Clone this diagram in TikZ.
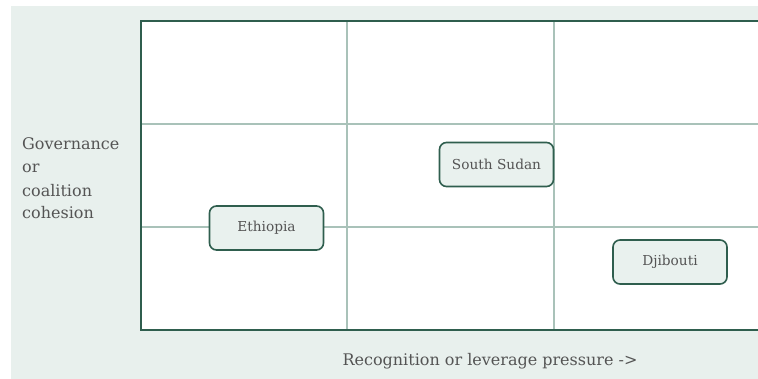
\documentclass[tikz,border=0pt]{standalone}
\usepackage{fontspec}
\setmainfont{DejaVu Serif}
\definecolor{panelbg}{HTML}{E8F0ED}
\definecolor{framegreen}{HTML}{2F5E4E}
\definecolor{gridline}{HTML}{A9C2B9}
\definecolor{boxfill}{HTML}{E9F1EE}
\definecolor{labeltext}{HTML}{545454}
\begin{document}
\begin{tikzpicture}[x=1pt,y=-1pt,
  frameline/.style={draw=framegreen,line width=2.6pt},
  gridrule/.style={draw=gridline,line width=1.8pt},
  countrybox/.style={draw=framegreen,line width=1.6pt,fill=boxfill,rounded corners=7pt,
    minimum width=114pt,minimum height=44pt,inner sep=0pt,text=labeltext,
    font=\fontsize{13.7}{16}\selectfont},
  axislabel/.style={text=labeltext,font=\fontsize{16}{19}\selectfont,inner sep=0pt}]
\useasboundingbox (0,0) rectangle (758,379);
% panel background
\fill[panelbg] (11,6) rectangle (758,379);
% plot area
\fill[white] (141,21) rectangle (758,330);
% inner grid
\draw[gridrule] (347,21) -- (347,330);
\draw[gridrule] (554,21) -- (554,330);
\draw[gridrule] (141,124) -- (758,124);
\draw[gridrule] (141,227) -- (758,227);
% outer frame (open on the right)
\draw[frameline] (758,21) -- (141,21) -- (141,330) -- (758,330);
% countries
\node[countrybox] (eth) at (266.5,228) {Ethiopia};
\node[countrybox] (ssd) at (496.5,164.5) {South Sudan};
\node[countrybox] (dji) at (670,262) {Djibouti};
% axis labels
\node[axislabel,anchor=base west] (gov) at (22,150) {Governance};
\node[axislabel,anchor=base west] (gor) at (22,173) {or};
\node[axislabel,anchor=base west] (gco) at (22,196.5) {coalition};
\node[axislabel,anchor=base west] (gch) at (22,219) {cohesion};
\node[axislabel] (rec) at (490,361) {Recognition or leverage pressure ->};
\end{tikzpicture}
\end{document}
